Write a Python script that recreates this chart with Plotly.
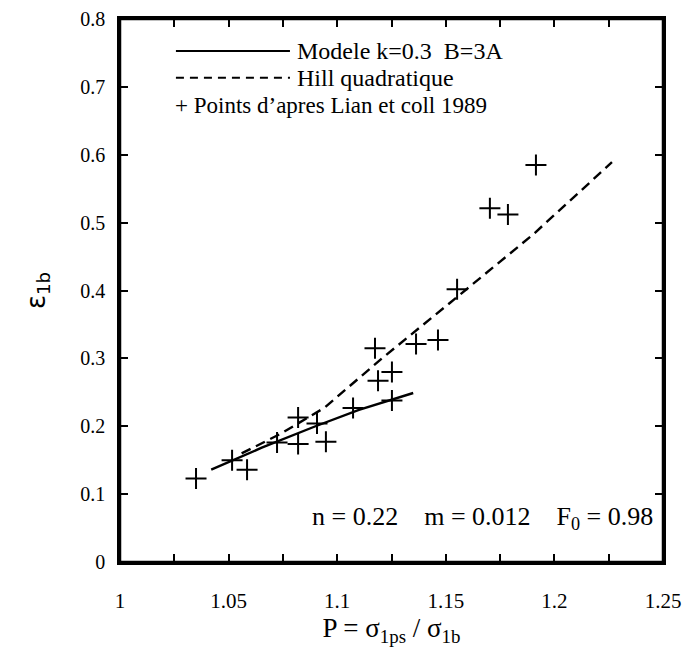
import plotly.graph_objects as go

# Data
pts_x = [1.035, 1.0516, 1.0585, 1.0723, 1.082, 1.082, 1.0907, 1.0948, 1.1073,
         1.1174, 1.1188, 1.1252, 1.1252, 1.1363, 1.1464, 1.1552, 1.1703, 1.1786, 1.1915]
pts_y = [0.123, 0.150, 0.136, 0.176, 0.213, 0.174, 0.204, 0.177, 0.227,
         0.315, 0.267, 0.280, 0.238, 0.321, 0.327, 0.402, 0.521, 0.512, 0.585]

model_x = [1.042, 1.065, 1.09, 1.11, 1.135]
model_y = [0.136, 0.168, 0.200, 0.224, 0.249]

hill_x = [1.056, 1.074, 1.094, 1.121, 1.152, 1.190, 1.2265]
hill_y = [0.160, 0.189, 0.227, 0.301, 0.382, 0.482, 0.589]

x_ticks = [1, 1.05, 1.1, 1.15, 1.2, 1.25]
y_ticks = [0, 0.1, 0.2, 0.3, 0.4, 0.5, 0.6, 0.7, 0.8]

legend_labels = ["Modele k=0.3  B=3A", "Hill quadratique", "Points d\u2019apres Lian et coll 1989"]

SERIF = "Liberation Serif, Times New Roman, serif"
SANS = "DejaVu Sans, Arial, sans-serif"

fig = go.Figure()
fig.add_trace(go.Scatter(x=model_x, y=model_y, mode="lines",
                         line=dict(color="black", width=2.4), showlegend=False))
fig.add_trace(go.Scatter(x=hill_x, y=hill_y, mode="lines",
                         line=dict(color="black", width=2.4, dash="10px,6px"), showlegend=False))
fig.add_trace(go.Scatter(x=pts_x, y=pts_y, mode="markers",
                         marker=dict(symbol="cross-thin-open", size=15, color="black",
                                     line=dict(color="black", width=2)),
                         showlegend=False))

# Frame
fig.add_shape(type="rect", xref="paper", yref="paper", x0=0, x1=1, y0=0, y1=1,
              line=dict(color="black", width=2.5), layer="above")

# Manual legend (decoration, in paper coordinates)
leg_y = [0.941, 0.892, 0.841]
fig.add_shape(type="line", xref="paper", yref="paper", x0=0.103, x1=0.313,
              y0=leg_y[0], y1=leg_y[0], line=dict(color="black", width=2))
fig.add_shape(type="line", xref="paper", yref="paper", x0=0.103, x1=0.313,
              y0=leg_y[1], y1=leg_y[1], line=dict(color="black", width=2, dash="8px,6px"))
for i, lab in enumerate(legend_labels[:2]):
    fig.add_annotation(xref="paper", yref="paper", x=0.322, y=leg_y[i], text=lab,
                       showarrow=False, xanchor="left", yanchor="middle",
                       font=dict(family=SERIF, size=24, color="black"))
fig.add_annotation(xref="paper", yref="paper", x=0.098, y=leg_y[2],
                   text="+ " + legend_labels[2], showarrow=False,
                   xanchor="left", yanchor="middle",
                   font=dict(family=SERIF, size=23, color="black"))

fig.add_annotation(xref="paper", yref="paper", x=0.985, y=0.081,
                   text="n = 0.22    m = 0.012    F<sub>0</sub> = 0.98",
                   showarrow=False, xanchor="right", yanchor="middle",
                   font=dict(family=SERIF, size=26, color="black"))

# The page has an 8px body margin; figure sized so the plot frame lands as in the reference
fig.update_layout(
    width=685, height=651,
    margin=dict(l=112, r=30, t=11, b=97),
    paper_bgcolor="white", plot_bgcolor="white",
    font=dict(family=SERIF, size=20, color="black"),
    showlegend=False,
)
fig.update_xaxes(
    range=[1, 1.25], tickmode="linear", tick0=1, dtick=0.05,
    ticks="inside", ticklen=8, tickwidth=2, tickcolor="black",
    minor=dict(tickmode="linear", tick0=1, dtick=0.025, ticks="inside", ticklen=8,
               tickwidth=2, tickcolor="black"),
    showline=True, linewidth=2.5, linecolor="black", mirror="ticks",
    showgrid=False, zeroline=False, ticklabelstandoff=18, automargin=False,
    ticklabeloverflow="allow",
    tickfont=dict(family=SERIF, size=21),
    title=dict(text="P = \u03c3<sub>1ps</sub> / \u03c3<sub>1b</sub>",
               font=dict(family=SERIF, size=27), standoff=0),
)
fig.update_yaxes(
    range=[0, 0.8], tickmode="linear", tick0=0, dtick=0.1,
    ticks="inside", ticklen=8, tickwidth=2, tickcolor="black",
    showline=True, linewidth=2.5, linecolor="black", mirror="ticks",
    showgrid=False, zeroline=False, ticklabelstandoff=8, automargin=False,
    ticklabeloverflow="allow",
    tickfont=dict(family=SERIF, size=20),
    title=dict(text="\u03b5<sub>1b</sub>", font=dict(family=SANS, size=26), standoff=28),
)

fig.write_html("out.html")
